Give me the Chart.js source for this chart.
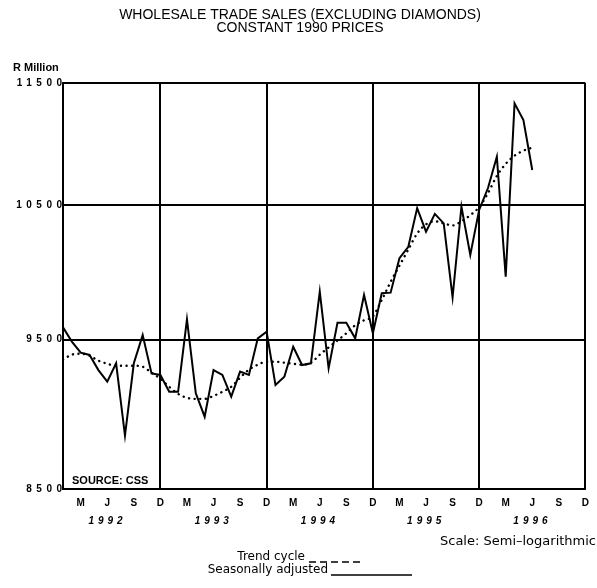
<!DOCTYPE html>
<html>
<head>
<meta charset="utf-8">
<script src="https://cdn.jsdelivr.net/npm/chart.js@4/dist/chart.umd.min.js"></script>
<style>
  html, body { margin: 0; padding: 0; background: #fff; }
  #wrap { width: 597px; height: 588px; }
</style>
</head>
<body>
<div id="wrap"><canvas id="salesChart" width="597" height="588"></canvas></div>
<script>
// Wholesale trade sales, R million, monthly Jan 1992 - Jun 1996
const years = ["1992", "1993", "1994", "1995", "1996"];
const quarterLetters = ["M", "J", "S", "D"];
const yTicks = [8500, 9500, 10500, 11500];

const seasonallyAdjusted = [
  9588, 9486, 9408, 9392, 9287, 9207, 9334, 8845, 9334, 9532, 9264, 9253,
  9138, 9138, 9645, 9128, 8970, 9287, 9253, 9105, 9276, 9253, 9509, 9556,
  9184, 9241, 9450, 9322, 9334, 9845, 9299, 9620, 9620, 9509, 9821, 9545,
  9834, 9838, 10094, 10180, 10477, 10295, 10432, 10359, 9804, 10488, 10118, 10463,
  10635, 10886, 9956, 11327, 11187, 10779,
];

const trendCycle = [
  9360, 9394, 9401, 9387, 9352, 9331, 9317, 9317, 9317, 9310, 9269, 9227,
  9172, 9124, 9097, 9090, 9090, 9110, 9138, 9172, 9234, 9290, 9324, 9345,
  9345, 9338, 9331, 9324, 9338, 9394, 9445, 9494, 9545, 9602, 9638, 9667,
  9784, 9917, 10038, 10159, 10281, 10351, 10375, 10359, 10343, 10375, 10422, 10485,
  10595, 10731, 10828, 10894, 10935, 10960,
];

// quarter tick positions (month index from Jan 1992)
const quarterTicks = [];
years.forEach((y, yi) => {
  quarterLetters.forEach((q, qi) => quarterTicks.push(yi * 12 + qi * 3 + 2));
});

const FONT = "'Liberation Sans', Arial, sans-serif";
const WIDE = "'DejaVu Sans', sans-serif";

const textPlugin = {
  id: "paperText",
  afterDraw(chart) {
    const ctx = chart.ctx;
    const xs = chart.scales.x;
    const ys = chart.scales.y;
    ctx.save();
    ctx.fillStyle = "#000";
    ctx.textBaseline = "middle";

    // title
    ctx.textAlign = "center";
    ctx.font = "14px " + FONT;
    ctx.fillText("WHOLESALE TRADE SALES (EXCLUDING DIAMONDS)", 300, 15);
    ctx.fillText("CONSTANT 1990 PRICES", 300, 28);

    // unit
    ctx.textAlign = "left";
    ctx.font = "bold 11px " + FONT;
    ctx.fillText("R Million", 13, 68);

    // y tick labels, spaced like the print
    ctx.textAlign = "right";
    ctx.font = "bold 10px " + FONT;
    ctx.letterSpacing = "4.5px";
    yTicks.forEach((v) => {
      ctx.fillText(String(v), xs.left + 3.5, ys.getPixelForValue(v));
    });

    // years
    ctx.textAlign = "center";
    ctx.font = "bold italic 10px " + FONT;
    ctx.letterSpacing = "4px";
    years.forEach((y, i) => {
      ctx.fillText(y, xs.getPixelForValue(i * 12 + 4.8) + 2, 521);
    });
    ctx.letterSpacing = "0px";

    // source
    ctx.textAlign = "left";
    ctx.font = "bold 11px " + FONT;
    ctx.fillText("SOURCE: CSS", 72, chart.chartArea.bottom - 8);

    // scale note
    ctx.textAlign = "right";
    ctx.font = "13px " + WIDE;
    ctx.fillText("Scale: Semi\u2013logarithmic", 596, 542);

    // legend
    ctx.font = "12px " + WIDE;
    ctx.fillText("Trend cycle", 305, 557);
    ctx.fillText("Seasonally adjusted", 328, 570);
    ctx.strokeStyle = "#000";
    ctx.lineWidth = 1.5;
    ctx.setLineDash([7, 4]);
    ctx.beginPath();
    ctx.moveTo(309, 562);
    ctx.lineTo(360, 562);
    ctx.stroke();
    ctx.setLineDash([]);
    ctx.beginPath();
    ctx.moveTo(331, 575);
    ctx.lineTo(412, 575);
    ctx.stroke();
    ctx.restore();
  },
};

const salesCtx = document.getElementById("salesChart").getContext("2d");
new Chart(salesCtx, {
  type: "line",
  data: {
    datasets: [
      {
        label: "Seasonally adjusted",
        data: seasonallyAdjusted.map((v, i) => ({ x: i, y: v })),
        borderColor: "#000",
        borderWidth: 2,
        pointRadius: 0,
        tension: 0,
      },
      {
        label: "Trend cycle",
        data: trendCycle.map((v, i) => ({ x: i, y: v })),
        borderColor: "#000",
        borderWidth: 2.4,
        borderDash: [0.1, 5.5],
        borderCapStyle: "round",
        pointRadius: 0,
        cubicInterpolationMode: "monotone",
      },
    ],
  },
  options: {
    responsive: false,
    animation: false,
    events: [],
    layout: { padding: { top: 83, right: 6, bottom: 79, left: 0 } },
    plugins: {
      legend: { display: false },
      title: { display: false },
      tooltip: { enabled: false },
    },
    scales: {
      x: {
        type: "linear",
        min: 0,
        max: 59,
        afterBuildTicks: (s) => {
          s.ticks = quarterTicks.map((v) => ({ value: v }));
        },
        afterFit: (s) => {
          s.height = 20;
        },
        ticks: {
          autoSkip: false,
          maxRotation: 0,
          padding: 8,
          color: "#000",
          font: { family: FONT, size: 10, weight: "bold" },
          callback: (v) => quarterLetters[((v - 2) / 3) % 4],
        },
        grid: {
          color: (c) => (c.tick && c.tick.value % 12 === 11 ? "#000" : "rgba(0,0,0,0)"),
          lineWidth: 2,
          drawTicks: false,
        },
        border: { color: "#000", width: 2 },
      },
      y: {
        type: "logarithmic",
        min: 8500,
        max: 11500,
        afterBuildTicks: (s) => {
          s.ticks = yTicks.map((v) => ({ value: v }));
        },
        afterFit: (s) => {
          s.width = 63;
        },
        ticks: { display: false },
        grid: { color: "#000", lineWidth: 2, drawTicks: false },
        border: { color: "#000", width: 2 },
      },
    },
  },
  plugins: [textPlugin],
});
</script>
</body>
</html>
